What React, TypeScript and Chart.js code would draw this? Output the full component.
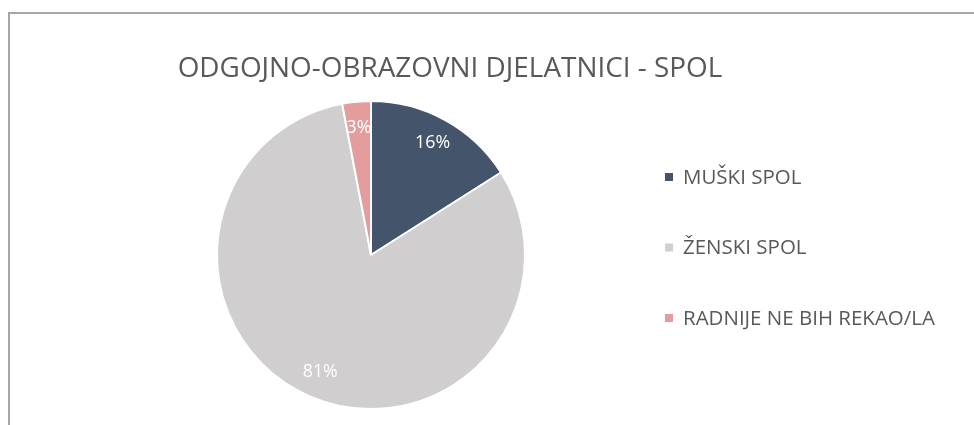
import React, { useEffect, useRef } from "react";
import { Chart, registerables } from "chart.js";

Chart.register(...registerables);

const TITLE = "ODGOJNO-OBRAZOVNI DJELATNICI - SPOL";
const categories = ["MUŠKI SPOL", "ŽENSKI SPOL", "RADNIJE NE BIH REKAO/LA"];
const values = [16, 81, 3];
const colors = ["#44546A", "#D0CECE", "#E49C9C"];

const FONT = "'Open Sans', 'Noto Sans', sans-serif";
const TEXT_GRAY = "#595959";

function fitFont(ctx: CanvasRenderingContext2D, text: string, width: number) {
  ctx.font = `100px ${FONT}`;
  const w = ctx.measureText(text).width;
  return (100 * width) / w;
}

const framePlugin = {
  id: "frame",
  beforeDraw(chart: any) {
    const ctx = chart.ctx as CanvasRenderingContext2D;
    ctx.save();
    ctx.fillStyle = "#ffffff";
    ctx.fillRect(0, 0, chart.width, chart.height);
    ctx.fillStyle = "#A6A6A6";
    ctx.fillRect(8, 12, chart.width - 8, 2);
    ctx.fillRect(8, 12, 2, chart.height - 12);
    ctx.restore();
  },
};

const titlePlugin = {
  id: "customTitle",
  afterDraw(chart: any) {
    const ctx = chart.ctx as CanvasRenderingContext2D;
    ctx.save();
    const size = fitFont(ctx, TITLE, 545);
    ctx.font = `${size}px ${FONT}`;
    ctx.fillStyle = TEXT_GRAY;
    ctx.textAlign = "center";
    ctx.textBaseline = "middle";
    ctx.fillText(TITLE, 450, 69);
    ctx.restore();
  },
};

const legendPlugin = {
  id: "customLegend",
  afterDraw(chart: any) {
    const ctx = chart.ctx as CanvasRenderingContext2D;
    ctx.save();
    const size = fitFont(ctx, categories[2], 252);
    ctx.font = `${size}px ${FONT}`;
    ctx.textAlign = "left";
    ctx.textBaseline = "middle";
    const ds = chart.data.datasets[0];
    chart.data.labels.forEach((lab: string, i: number) => {
      const y = 178 + i * 70.5;
      ctx.fillStyle = ds.backgroundColor[i];
      ctx.fillRect(665, y - 5, 8, 8);
      ctx.fillStyle = TEXT_GRAY;
      ctx.fillText(lab, 683, y);
    });
    ctx.restore();
  },
};

const labelPlugin = {
  id: "sliceLabels",
  afterDatasetsDraw(chart: any) {
    const ctx = chart.ctx as CanvasRenderingContext2D;
    const meta = chart.getDatasetMeta(0);
    const data = chart.data.datasets[0].data;
    ctx.save();
    const size = fitFont(ctx, "16%", 35);
    ctx.font = `${size}px ${FONT}`;
    ctx.fillStyle = "#ffffff";
    ctx.textAlign = "center";
    ctx.textBaseline = "middle";
    meta.data.forEach((arc: any, i: number) => {
      const p = arc.getProps(["x", "y", "startAngle", "endAngle", "outerRadius"], true);
      const mid = (p.startAngle + p.endAngle) / 2;
      const r = p.outerRadius * 0.83;
      ctx.fillText(`${data[i]}%`, p.x + Math.cos(mid) * r, p.y + Math.sin(mid) * r);
    });
    ctx.restore();
  },
};

export default function App() {
  const ref = useRef<HTMLCanvasElement>(null);
  useEffect(() => {
    if (!ref.current) return;
    const chart = new Chart(ref.current, {
      type: "pie",
      data: {
        labels: categories,
        datasets: [
          {
            data: values,
            backgroundColor: colors,
            borderColor: "#ffffff",
            borderWidth: 2,
          },
        ],
      },
      options: {
        responsive: false,
        animation: false,
        devicePixelRatio: 1,
        layout: { padding: { top: 100, bottom: 15, left: 216, right: 448 } },
        plugins: {
          legend: { display: false },
          title: { display: false },
          tooltip: { enabled: false },
        },
      },
      plugins: [framePlugin, titlePlugin, legendPlugin, labelPlugin],
    });
    return () => chart.destroy();
  }, []);
  return (
    <div style={{ position: "absolute", left: 0, top: 0, width: 974, height: 425 }}>
      <canvas ref={ref} width={974} height={425} style={{ display: "block" }} />
    </div>
  );
}
